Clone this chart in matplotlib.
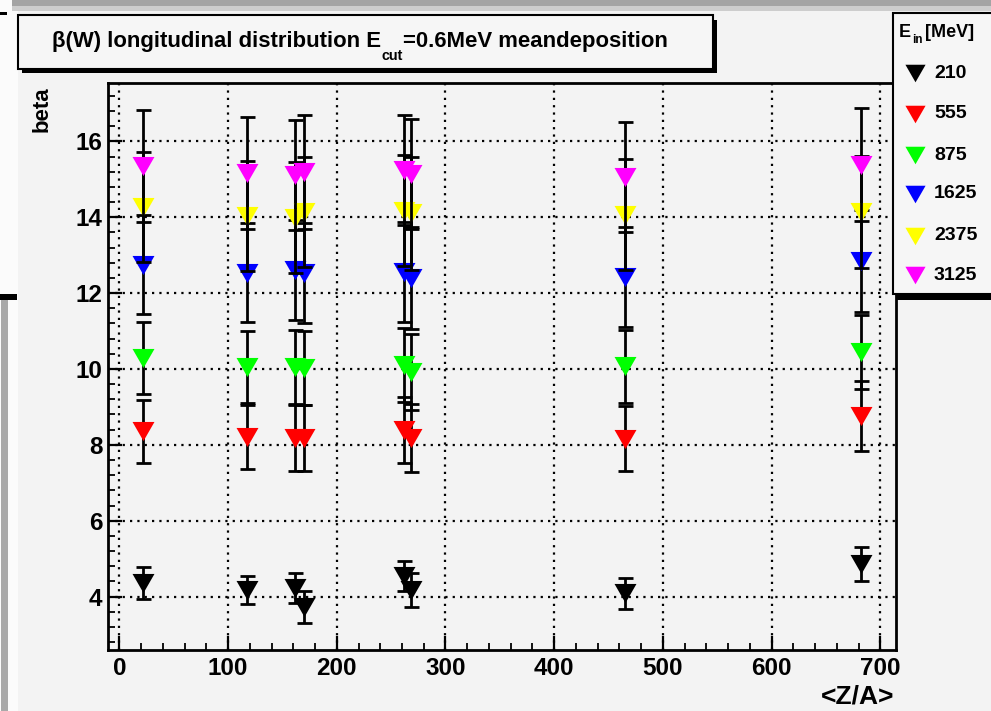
import matplotlib
matplotlib.use('Agg')
import matplotlib.pyplot as plt
from matplotlib.patches import Rectangle
from matplotlib.lines import Line2D
from matplotlib.ticker import MultipleLocator

# ---------------- data ----------------
za = [22, 117, 162, 170, 262, 268, 465, 682]
energies = ['210', '555', '875', '1625', '2375', '3125']
colors = ['#000000', '#ff0000', '#00ff00', '#0000ff', '#ffff00', '#ff00ff']

beta_210 = [4.35, 4.17, 4.22, 3.72, 4.54, 4.18, 4.08, 4.85]
beta_555 = [8.36, 8.21, 8.18, 8.18, 8.39, 8.18, 8.16, 8.76]
beta_875 = [10.30, 10.06, 10.05, 10.03, 10.10, 9.93, 10.07, 10.45]
beta_1625 = [12.75, 12.54, 12.60, 12.53, 12.56, 12.40, 12.43, 12.85]
beta_2375 = [14.28, 14.04, 13.99, 14.14, 14.17, 14.10, 14.07, 14.14]
beta_3125 = [15.36, 15.17, 15.12, 15.20, 15.25, 15.15, 15.07, 15.39]

err_210 = [0.42, 0.38, 0.40, 0.42, 0.39, 0.45, 0.40, 0.45]
err_555 = [0.83, 0.85, 0.87, 0.87, 0.88, 0.90, 0.86, 0.92]
err_875 = [0.95, 0.95, 0.97, 0.97, 0.97, 1.00, 0.97, 0.98]
err_1625 = [1.30, 1.30, 1.32, 1.32, 1.32, 1.35, 1.32, 1.35]
err_2375 = [1.45, 1.45, 1.46, 1.46, 1.46, 1.48, 1.46, 1.48]
err_3125 = [1.48, 1.48, 1.45, 1.50, 1.45, 1.45, 1.45, 1.50]

values = [beta_210, beta_555, beta_875, beta_1625, beta_2375, beta_3125]
errors = [err_210, err_555, err_875, err_1625, err_2375, err_3125]

x_ticks = [0, 100, 200, 300, 400, 500, 600, 700]
y_ticks = [4, 6, 8, 10, 12, 14, 16]

# ---------------- style ----------------
plt.rcParams['font.family'] = ['Liberation Sans', 'DejaVu Sans']
plt.rcParams['font.weight'] = 'bold'

W, H = 991, 711
BG = '#f3f3f3'
fig = plt.figure(figsize=(W / 100, H / 100), dpi=100, facecolor=BG)


def rect_px(x0, y0, x1, y1, **kw):
    r = Rectangle((x0 / W, 1 - y1 / H), (x1 - x0) / W, (y1 - y0) / H,
                  transform=fig.transFigure, **kw)
    fig.add_artist(r)
    return r


# screenshot artefacts around the canvas
rect_px(0, 0, 18, 711, facecolor='#fbfbfb', edgecolor='none', zorder=0.1)
rect_px(12, 0, 991, 6, facecolor='#a4a4a4', edgecolor='none', zorder=0.2)
rect_px(12, 6, 991, 11, facecolor='#cdcdcd', edgecolor='none', zorder=0.2)
rect_px(0, 12, 7, 15, facecolor='black', edgecolor='none', zorder=0.2)
rect_px(0, 294, 17, 300, facecolor='black', edgecolor='none', zorder=0.2)
rect_px(1, 300, 8, 711, facecolor='#a9a9a9', edgecolor='none', zorder=0.2)

# ---------------- axes ----------------
ax_l, ax_r, ax_t, ax_b = 108, 896, 83, 650
ax = fig.add_axes([ax_l / W, 1 - ax_b / H, (ax_r - ax_l) / W, (ax_b - ax_t) / H])
ax.set_facecolor(BG)
ax.set_xlim(-10.5, 714.5)
ax.set_ylim(2.59, 17.54)

tri = [(0, -0.87), (-1, 0.87), (1, 0.87), (0, -0.87)]

for i, (vals, errs, col) in enumerate(zip(values, errors, colors)):
    ax.errorbar(za, vals, yerr=errs, fmt='none', ecolor='black',
                elinewidth=2.0, capsize=5.4, capthick=2.0, zorder=3 + 2 * i)
    ax.plot(za, vals, linestyle='none', marker=tri, markersize=15.8,
            color=col, markeredgewidth=0, zorder=4 + 2 * i)

ax.set_xticks(x_ticks)
ax.set_yticks(y_ticks)
ax.xaxis.set_minor_locator(MultipleLocator(20))
ax.yaxis.set_minor_locator(MultipleLocator(0.4))
ax.tick_params(which='major', direction='in', length=10, width=1.6,
               labelsize=17.5, top=False, right=False)
ax.tick_params(which='minor', direction='in', length=5, width=1.3,
               top=False, right=False)
ax.tick_params(axis='x', pad=5)
ax.tick_params(axis='y', pad=4)
for lab in ax.get_xticklabels() + ax.get_yticklabels():
    lab.set_fontweight('bold')
for sp in ax.spines.values():
    sp.set_linewidth(2.0)
    sp.set_color('black')
ax.set_axisbelow(True)
ax.grid(True, which='major', color='black', linestyle=(0, (1.0, 2.3)), linewidth=1.6)

# axis titles (ROOT style: at axis ends)
fig.text(42 / W, 1 - 86 / H, 'beta', rotation=90, ha='center', va='top',
         fontsize=16, fontweight='bold')
fig.text(894 / W, 1 - 703 / H, '<Z/A>', ha='right', va='baseline',
         fontsize=19, fontweight='bold')

# ---------------- title box ----------------
rect_px(22, 20, 717, 73, facecolor='black', edgecolor='none', zorder=2)
rect_px(18, 15, 713, 69, facecolor='#f6f6f6', edgecolor='black', linewidth=1.5, zorder=3)

renderer = fig.canvas.get_renderer()


def put(x_px, base_px, s, size, z=5):
    t = fig.text(x_px / W, 1 - base_px / H, s, fontsize=size, fontweight='bold',
                 ha='left', va='baseline', zorder=z)
    bb = t.get_window_extent(renderer)
    return t, bb.x1


def compose_title(size):
    t1, e1 = put(52, 47, 'β(W) longitudinal distribution E', size)
    t2, e2 = put(e1 + 1, 60, 'cut', size * 0.65)
    t3, e3 = put(e2 + 0, 47, '=0.6MeV meandeposition', size)
    return [t1, t2, t3], e3


parts, end = compose_title(15)
fit = 15 * (672 - 52) / (end - 52)
for p in parts:
    p.remove()
compose_title(fit)

# ---------------- legend box ----------------
rect_px(897, 293, 991, 300, facecolor='black', edgecolor='none', zorder=2)
rect_px(893, 13, 1000, 294, facecolor='#f6f6f6', edgecolor='black', linewidth=1.5, zorder=3)

th, eh = put(899, 37, 'E', 13)
ti, ei = put(eh + 1, 43, 'in', 8.5)
put(ei + 2, 37, '[MeV]', 13)

rows = [73, 114, 155, 194, 236, 275]
for lab, col, yy in zip(energies, colors, rows):
    fig.add_artist(Line2D([915 / W], [1 - yy / H], transform=fig.transFigure,
                          marker=tri, markersize=14.5, color=col,
                          markeredgewidth=0, linestyle='none', zorder=6))
    fig.text(934 / W, 1 - yy / H, lab, ha='left', va='center', fontsize=14,
             fontweight='bold', zorder=6)

fig.savefig('out.png', dpi=100, facecolor=BG)
